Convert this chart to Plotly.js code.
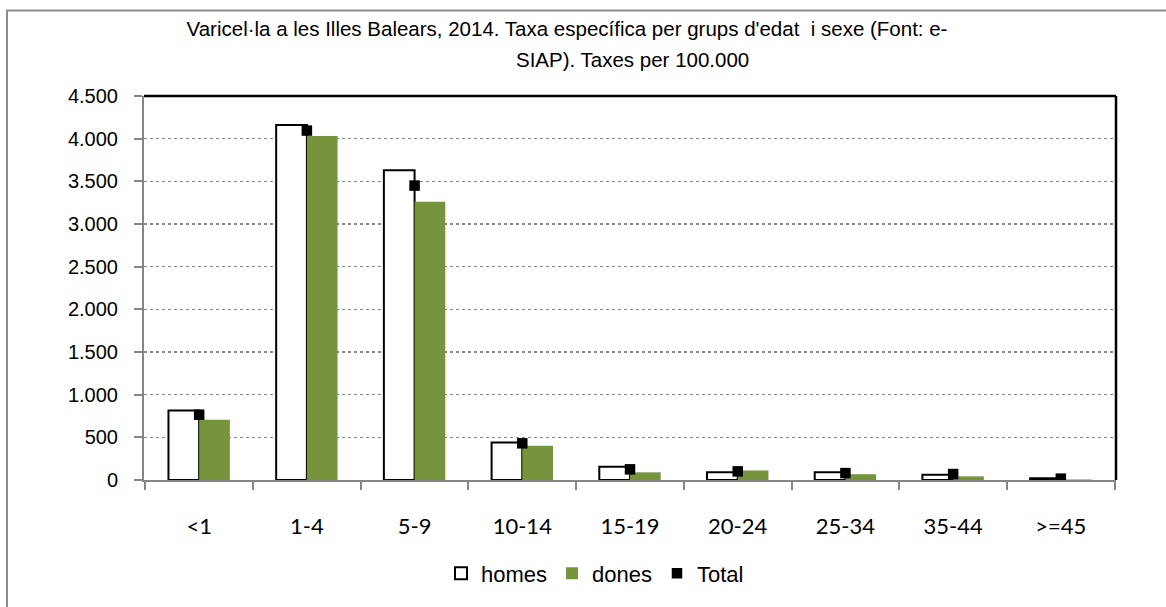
<!DOCTYPE html>
<html>
<head>
<meta charset="utf-8">
<script src="https://cdn.plot.ly/plotly-3.0.1.min.js"></script>
<style>html,body{margin:0;padding:0;background:#fff;}#chart{width:1166px;height:607px;}</style>
</head>
<body>
<div id="chart"></div>
<script>
const categories = ["<1", "1-4", "5-9", "10-14", "15-19", "20-24", "25-34", "35-44", ">=45"];
const homes = [815, 4160, 3630, 440, 155, 90, 90, 62, 20];
const dones = [705, 4030, 3260, 400, 90, 112, 68, 43, 6];
const total = [765, 4095, 3450, 430, 125, 101, 81, 70, 16];
const yTicks = [0, 500, 1000, 1500, 2000, 2500, 3000, 3500, 4000, 4500];
const titleLine1 = "Varicel·la a les Illes Balears, 2014. Taxa específica per grups d'edat  i sexe (Font: e-";
const titleLine2 = "SIAP). Taxes per 100.000";

const traces = [
  {type: "bar", name: "homes", x: categories, y: homes,
   marker: {color: "#ffffff", line: {color: "#000000", width: 2}}},
  {type: "bar", name: "dones", x: categories, y: dones,
   marker: {color: "#77933C", line: {width: 0}}},
  {type: "scatter", mode: "markers", name: "Total", x: categories, y: total,
   marker: {symbol: "square", color: "#000000", size: 10.5}}
];

const grey = "#868686";
const titleFont = {family: "Liberation Sans, Arial, sans-serif", size: 20.5, color: "#000"};
const layout = {
  width: 1166, height: 607,
  margin: {l: 144, r: 50, t: 96, b: 125},
  paper_bgcolor: "#ffffff", plot_bgcolor: "#ffffff",
  separators: ",.",
  barmode: "group", bargap: 0.43, bargroupgap: 0,
  showlegend: true,
  font: {family: "Liberation Sans, Arial, sans-serif", color: "#000000", size: 18},
  title: {text: titleLine1, xref: "paper", x: (567 - 144) / 972, xanchor: "center", yref: "container", y: 1 - 29/607, yanchor: "middle",
          font: titleFont},
  annotations: [
    {text: titleLine2, xref: "paper", yref: "paper", x: (632 - 144) / 972, y: (482 - 59) / 386, xanchor: "center", yanchor: "middle",
     showarrow: false, font: titleFont}
  ],
  xaxis: {
    type: "category", tickson: "boundaries", ticks: "outside", ticklen: 8, tickwidth: 2, tickcolor: grey,
    showline: true, linecolor: grey, linewidth: 2, showgrid: false, zeroline: false,
    ticklabelstandoff: 26,
    tickfont: {family: "Lato, Carlito, Calibri, sans-serif", size: 22, color: "#000"},
    fixedrange: true
  },
  yaxis: {
    range: [0, 4500], tickvals: yTicks, tickformat: ",d",
    ticks: "outside", ticklen: 8, tickwidth: 2, tickcolor: grey,
    showline: true, linecolor: grey, linewidth: 2,
    showgrid: true, gridcolor: grey, griddash: "dot", gridwidth: 1.5, zeroline: false,
    ticklabelstandoff: 12,
    tickfont: {family: "Liberation Sans, Arial, sans-serif", size: 20, color: "#000"},
    fixedrange: true
  },
  legend: {orientation: "h", x: (595 - 144) / 972, xanchor: "center", y: (482 - 576) / 386, yanchor: "middle",
           font: {family: "Liberation Sans, Arial, sans-serif", size: 22, color: "#000"},
           itemwidth: 30, traceorder: "normal", bgcolor: "rgba(0,0,0,0)"},
  shapes: [
    {type: "line", xref: "paper", yref: "paper", x0: 0, x1: 1, y0: 1, y1: 1, line: {color: "#000", width: 2.5}},
    {type: "line", xref: "paper", yref: "paper", x0: 1, x1: 1, y0: 0, y1: 1, line: {color: "#000", width: 2.5}},
    {type: "rect", xref: "paper", yref: "paper", x0: (7 - 144) / 972, x1: 1.1, y0: -0.4, y1: (482 - 10) / 386,
     line: {color: "#8c8c8c", width: 2}, layer: "below"}
  ]
};

Plotly.newPlot("chart", traces, layout, {displayModeBar: false, staticPlot: true});
</script>
</body>
</html>
